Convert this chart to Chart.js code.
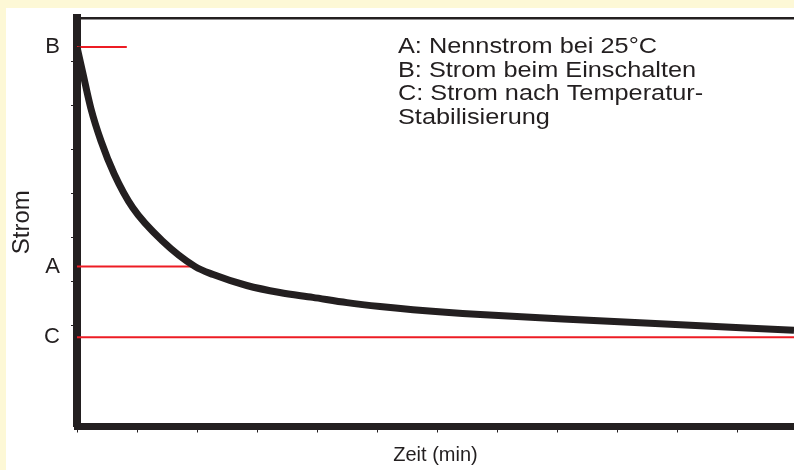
<!DOCTYPE html>
<html>
<head>
<meta charset="utf-8">
<script src="https://cdn.jsdelivr.net/npm/chart.js@4.4.1/dist/chart.umd.min.js"></script>
<style>
  html, body { margin: 0; padding: 0; }
  body { width: 794px; height: 470px; background: #fdf8d6; overflow: hidden; position: relative; }
  #wrap { position: absolute; left: 6px; top: 8px; width: 788px; height: 462px; background: #fff; }
</style>
</head>
<body>
<div id="wrap"><canvas id="stromChart" width="788" height="462"></canvas></div>
<script>
	// Zeit in Minuten, Strom in relativen Einheiten
	var zeit  = [0, 0.10, 0.23, 0.40, 0.62, 0.93, 1.42, 1.97, 2.27, 2.83, 3.38, 3.93, 4.50, 5.05, 5.60, 6.72, 8.10, 9.55, 11.95];
	var strom = [8.34, 7.73, 6.95, 6.20, 5.45, 4.68, 3.93, 3.34, 3.16, 2.91, 2.75, 2.64, 2.52, 2.43, 2.36, 2.25, 2.15, 2.05, 1.89];

	// Markierungen A, B, C
	var stromA = 3.34, stromB = 8.34, stromC = 1.73;
	var endeA = 1.9, endeB = 0.83;
	var zeitMax = 11.95;

	var zeitTicks = [0, 1, 2, 3, 4, 5, 6, 7, 8, 9, 10, 11];
	var stromTicks = [2, 3, 4, 5, 6, 7, 8];

	var notizen = [
		'A: Nennstrom bei 25°C',
		'B: Strom beim Einschalten',
		'C: Strom nach Temperatur-',
		'Stabilisierung'
	];

	var schwarz = '#231f20';
	var rot = '#ed1c24';
	var schrift = '"Liberation Sans", Arial, Helvetica, sans-serif';

	Chart.defaults.font.family = schrift;
	Chart.defaults.color = schwarz;

	function marke(v) {
		return v === stromA || v === stromB || v === stromC;
	}

	// Chart.js reserviert sonst Platz fuer halbe Beschriftungshoehen
	function ohnePadding(scale) {
		scale.paddingTop = 0;
		scale.paddingBottom = 0;
		scale.paddingLeft = 0;
		scale.paddingRight = 0;
	}

	/* ================= Notizen oben rechts ================= */

	var notizPlugin = {
		id: 'notizen',
		afterDraw: function(chart) {
			var ctx = chart.ctx;
			ctx.save();
			ctx.font = '22px ' + schrift;
			ctx.fillStyle = schwarz;
			ctx.textBaseline = 'alphabetic';
			ctx.translate(392, 0);
			ctx.scale(1.15, 1);
			notizen.forEach(function(txt, i) {
				ctx.fillText(txt, 0, 45 + i * 23.7);
			});
			ctx.restore();
		}
	};

	var kurve = zeit.map(function(t, i) {
		return { x: t, y: strom[i] };
	});

	var ctx = document.getElementById('stromChart');
	var stromChart = new Chart(ctx, {
		type: 'line',
		data: {
			datasets: [{
				data: kurve,
				borderColor: schwarz,
				borderWidth: 7,
				pointRadius: 0,
				cubicInterpolationMode: 'monotone',
				borderCapStyle: 'butt',
				borderJoinStyle: 'round'
			}, {
				data: [{ x: 0, y: stromB }, { x: endeB, y: stromB }],
				borderColor: rot,
				borderWidth: 2,
				pointRadius: 0
			}, {
				data: [{ x: 0, y: stromA }, { x: endeA, y: stromA }],
				borderColor: rot,
				borderWidth: 2,
				pointRadius: 0
			}, {
				data: [{ x: 0, y: stromC }, { x: zeitMax, y: stromC }],
				borderColor: rot,
				borderWidth: 2,
				pointRadius: 0
			}]
		},
		options: {
			responsive: false,
			animation: false,
			layout: { padding: 0 },
			plugins: {
				legend: { display: false },
				tooltip: { enabled: false }
			},
			scales: {
				x: {
					type: 'linear',
					position: 'bottom',
					min: 0,
					max: zeitMax,
					afterBuildTicks: function(scale) {
						scale.ticks = zeitTicks.map(function(v) { return { value: v }; });
					},
					afterFit: function(scale) {
						scale.height = 43.5;
						ohnePadding(scale);
					},
					grid: { drawOnChartArea: false, tickLength: 6, tickWidth: 1, tickColor: schwarz },
					border: { color: schwarz, width: 7 },
					ticks: { display: false },
					title: {
						display: true,
						text: 'Zeit (min)',
						color: schwarz,
						font: { size: 20 },
						padding: { top: 0, bottom: 3 }
					}
				},
				x2: {
					type: 'linear',
					position: 'top',
					min: 0,
					max: 1,
					afterFit: function(scale) {
						scale.height = 10;
						ohnePadding(scale);
					},
					grid: { display: false },
					ticks: { display: false },
					border: { color: schwarz, width: 2.5 }
				},
				y: {
					type: 'linear',
					min: -0.3,
					max: 9,
					afterBuildTicks: function(scale) {
						var werte = stromTicks.concat([stromA, stromB, stromC]).sort(function(a, b) { return a - b; });
						scale.ticks = werte.map(function(v) { return { value: v }; });
					},
					afterFit: function(scale) {
						scale.width = 71;
						ohnePadding(scale);
					},
					grid: {
						drawOnChartArea: false,
						tickLength: 6,
						tickWidth: 1,
						tickColor: function(c) {
							return (c.tick && marke(c.tick.value)) ? 'rgba(0,0,0,0)' : schwarz;
						}
					},
					border: { color: schwarz, width: 8 },
					ticks: {
						autoSkip: false,
						padding: 11,
						color: schwarz,
						font: { size: 22 },
						callback: function(v) {
							if (v === stromA) return 'A';
							if (v === stromB) return 'B';
							if (v === stromC) return 'C';
							return '';
						}
					},
					title: {
						display: true,
						text: 'Strom',
						color: schwarz,
						font: { size: 24 },
						padding: { top: 2, bottom: 0 }
					}
				}
			}
		},
		plugins: [notizPlugin]
	});
</script>
</body>
</html>
